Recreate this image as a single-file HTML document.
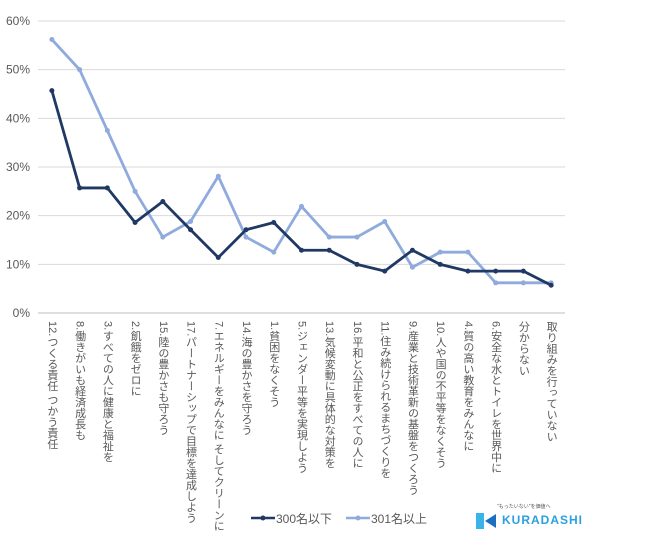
<!DOCTYPE html>
<html><head><meta charset="utf-8"><style>
body{margin:0;background:#fff;width:650px;height:548px;overflow:hidden;font-family:"Liberation Sans","Noto Sans CJK JP",sans-serif}
.lab{position:absolute;top:321px;writing-mode:vertical-rl;font-size:11px;color:#595959;line-height:13px;white-space:nowrap;letter-spacing:0}
</style></head><body>
<svg id="chart" width="650" height="548" style="position:absolute;left:0;top:0"></svg>
<div id="labels"></div>
<div style="position:absolute;left:250px;top:510px;font-size:12px;color:#595959">
 <span style="position:absolute;left:0;top:0;white-space:nowrap"><svg width="26" height="10"><line x1="1" y1="5" x2="25" y2="5" stroke="#203864" stroke-width="2.5"/><circle cx="13" cy="5" r="2.5" fill="#203864"/></svg>300名以下</span>
 <span style="position:absolute;left:95px;top:0;white-space:nowrap"><svg width="26" height="10"><line x1="1" y1="5" x2="25" y2="5" stroke="#8faadc" stroke-width="2.5"/><circle cx="13" cy="5" r="2.5" fill="#8faadc"/></svg>301名以上</span>
</div>
<div style="position:absolute;left:476px;top:503px">
 <div style="position:absolute;left:21px;top:0;font-size:5px;color:#555;white-space:nowrap">"もったいない"を価値へ</div>
 <svg style="position:absolute;left:0;top:10px" width="22" height="18"><rect x="0" y="0" width="8" height="16" fill="#3ab4e8"/><polygon points="9,8 20,1 20,15" fill="#1a6fc0"/></svg>
 <div style="position:absolute;left:26px;top:10px;font-size:12px;font-weight:bold;color:#2aa0e0;letter-spacing:1px">KURADASHI</div>
</div>
<script>
const categories=["12.つくる責任 つかう責任","8.働きがいも経済成長も","3.すべての人に健康と福祉を","2.飢餓をゼロに","15.陸の豊かさも守ろう","17.パートナーシップで目標を達成しよう","7.エネルギーをみんなに そしてクリーンに","14.海の豊かさを守ろう","1.貧困をなくそう","5.ジェンダー平等を実現しよう","13.気候変動に具体的な対策を","16.平和と公正をすべての人に","11.住み続けられるまちづくりを","9.産業と技術革新の基盤をつくろう","10.人や国の不平等をなくそう","4.質の高い教育をみんなに","6.安全な水とトイレを世界中に","分からない","取り組みを行っていない"];
const series300=[45.7,25.7,25.7,18.6,22.9,17.1,11.4,17.1,18.6,12.9,12.9,10,8.6,12.9,10,8.6,8.6,8.6,5.7];
const series301=[56.2,50,37.5,25,15.6,18.8,28.1,15.6,12.5,21.9,15.6,15.6,18.8,9.4,12.5,12.5,6.2,6.2,6.2];
const yTicks=[0,10,20,30,40,50,60];
const X0=38,X1=565,Y0=313,Y1=21;
const step=(X1-X0)/categories.length;
const xs=i=>X0+(i+0.5)*step;
const ys=v=>Y0-(v/60)*(Y0-Y1);
const NS="http://www.w3.org/2000/svg";
const svg=document.getElementById('chart');
function mk(t,a){const e=document.createElementNS(NS,t);for(const k in a)e.setAttribute(k,a[k]);svg.appendChild(e);return e;}
yTicks.forEach(t=>{
 const g=mk('line',{x1:X0,x2:X1,y1:ys(t),y2:ys(t),stroke:t===0?'#bfbfbf':'#d9d9d9','stroke-width':1});
 
 
 const tx=mk('text',{x:30,y:ys(t)+4,'text-anchor':'end','font-size':12,fill:'#595959','font-family':'Liberation Sans, sans-serif'});
 tx.textContent=t+'%';
 
 
});
function drawSeries(vals,color,name){
 const p=mk('polyline',{points:vals.map((v,i)=>xs(i)+','+ys(v)).join(' '),fill:'none',stroke:color,'stroke-width':2.8,'stroke-linejoin':'round'});
 
 
 vals.forEach((v,i)=>{
  const c=mk('circle',{cx:xs(i),cy:ys(v),r:2.5,fill:color});
  
  
 });
}
drawSeries(series301,'#8faadc','series-301');
drawSeries(series300,'#203864','series-300');
const lab=document.getElementById('labels');
categories.forEach((c,i)=>{
 const d=document.createElement('div');
 d.className='lab';
 d.style.left=(xs(i)-7)+'px';
 d.textContent=c;
 
 
 lab.appendChild(d);
});
</script>
</body></html>
